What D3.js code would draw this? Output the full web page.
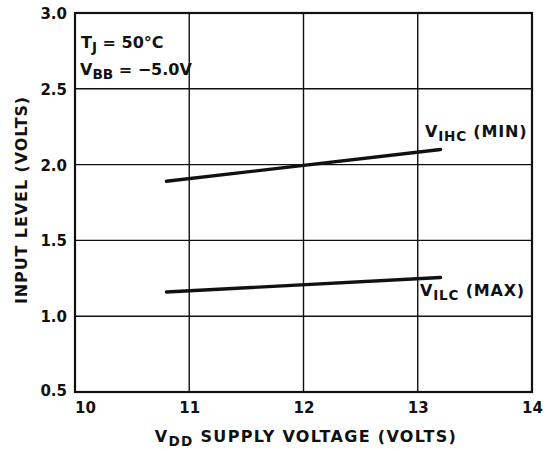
<!DOCTYPE html>
<html>
<head>
<meta charset="utf-8">
<script src="https://cdn.jsdelivr.net/npm/d3@7"></script>
<style>
  html, body { margin: 0; padding: 0; background: #fff; }
  svg text { font-family: "DejaVu Sans", "Liberation Sans", Arial, sans-serif; fill: #111; }
</style>
</head>
<body>
<svg id="chart" width="554" height="451"></svg>
<script>
// Supply voltage (VDD) axis ticks and input-level axis ticks
const xTicks = [10, 11, 12, 13, 14];
const yTicks = [0.5, 1.0, 1.5, 2.0, 2.5, 3.0];

// Input threshold curves vs. VDD
const vddPoints = [10.8, 13.2];
const vihcMin = [1.89, 2.10];
const vilcMax = [1.16, 1.255];

const svg = d3.select("#chart");
const margin = { left: 75, right: 22, top: 13, bottom: 59 };
const W = 554, H = 451;
const FONT = "'DejaVu Sans', 'Liberation Sans', Arial, sans-serif";

const x = d3.scaleLinear().domain([10, 14]).range([margin.left, W - margin.right]);
const y = d3.scaleLinear().domain([0.5, 3.0]).range([H - margin.bottom, margin.top]);

const ink = "#111";

// grid lines
svg.append("g").selectAll("line").data(xTicks.slice(1, -1)).join("line")
  .attr("x1", d => x(d)).attr("x2", d => x(d))
  .attr("y1", y(3.0)).attr("y2", y(0.5))
  .attr("stroke", ink).attr("stroke-width", 1.4);
svg.append("g").selectAll("line").data(yTicks.slice(1, -1)).join("line")
  .attr("x1", x(10)).attr("x2", x(14))
  .attr("y1", d => y(d)).attr("y2", d => y(d))
  .attr("stroke", ink).attr("stroke-width", 1.4);

// frame
svg.append("rect")
  .attr("x", x(10)).attr("y", y(3.0))
  .attr("width", x(14) - x(10)).attr("height", y(0.5) - y(3.0))
  .attr("fill", "none").attr("stroke", ink).attr("stroke-width", 2.2);

// axes (labels only; frame drawn above)
const xAxis = svg.append("g")
  .attr("transform", `translate(0,${y(0.5)})`)
  .call(d3.axisBottom(x).tickValues(xTicks).tickFormat(d3.format("d")).tickSize(0).tickPadding(10));
xAxis.select(".domain").remove();
xAxis.selectAll("text").attr("font-size", 15).attr("font-weight", "bold")
  .style("font-family", FONT).attr("fill", ink)
  .attr("dx", d => d === 10 ? 10 : 0);

const yAxis = svg.append("g")
  .attr("transform", `translate(${x(10)},0)`)
  .call(d3.axisLeft(y).tickValues(yTicks).tickFormat(d3.format(".1f")).tickSize(0).tickPadding(8));
yAxis.select(".domain").remove();
yAxis.selectAll("text").attr("font-size", 15).attr("font-weight", "bold")
  .style("font-family", FONT).attr("fill", ink)
  .attr("dy", d => d === 0.5 ? "0.2em" : "0.36em");

// curves
const line = d3.line().x(d => x(d[0])).y(d => y(d[1]));
[vihcMin, vilcMax].forEach(series => {
  svg.append("path")
    .datum(vddPoints.map((v, i) => [v, series[i]]))
    .attr("d", line)
    .attr("fill", "none").attr("stroke", ink).attr("stroke-width", 3.4)
    .attr("stroke-linecap", "round");
});

// helper: text with a subscript part
function subLabel(g, px, py, main, sub, rest, size, anchor, spacing) {
  const t = g.append("text").attr("x", px).attr("y", py)
    .attr("font-size", size).attr("font-weight", "bold")
    .attr("text-anchor", anchor || "start")
    .attr("letter-spacing", spacing || 0);
  t.append("tspan").text(main);
  t.append("tspan").attr("font-size", size * 0.85).attr("dy", size * 0.25).text(sub);
  t.append("tspan").attr("dy", -size * 0.25).text(rest);
  return t;
}

// curve labels
subLabel(svg, 425, 137, "V", "IHC", " (MIN)", 16, "start", 0.8);
subLabel(svg, 420, 296, "V", "ILC", " (MAX)", 16, "start", 0.8);

// conditions
subLabel(svg, 81, 48, "T", "J", " = 50°C", 16);
subLabel(svg, 80, 75, "V", "BB", " = \u22125.0V", 16);

// axis titles
subLabel(svg, 306, 442, "V", "DD", " SUPPLY VOLTAGE (VOLTS)", 16, "middle", 1.3);

svg.append("text")
  .attr("transform", `translate(27,200) rotate(-90)`)
  .attr("text-anchor", "middle")
  .attr("font-size", 16).attr("font-weight", "bold")
  .attr("letter-spacing", 0.9)
  .text("INPUT LEVEL (VOLTS)");
</script>
</body>
</html>
